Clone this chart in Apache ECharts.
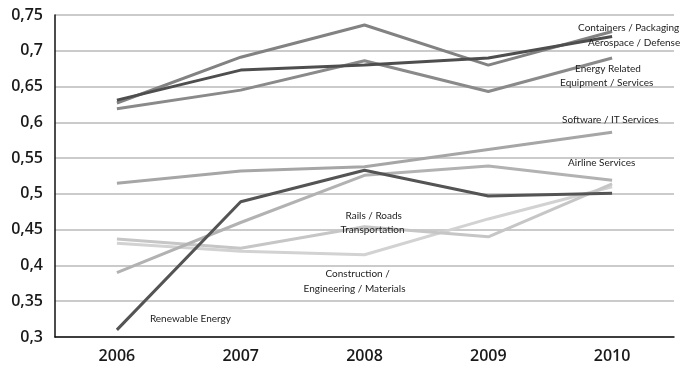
<!DOCTYPE html>
<html>
<head>
<meta charset="utf-8">
<script src="https://cdn.jsdelivr.net/npm/echarts@6/dist/echarts.min.js"></script>
<style>
  html, body { margin: 0; padding: 0; background: #fff; }
  #chart { width: 686px; height: 369px; }
</style>
</head>
<body>
<div id="chart"></div>
<script>
// Years on the x axis
const years = ['2006', '2007', '2008', '2009', '2010'];

// Y axis ticks
const yMin = 0.3;
const yMax = 0.75;
const yStep = 0.05;

// Sector values per year
const containersPackaging = [0.631, 0.673, 0.680, 0.690, 0.720];
const aerospaceDefense    = [0.627, 0.691, 0.736, 0.680, 0.727];
const energyEquipment     = [0.619, 0.645, 0.686, 0.643, 0.690];
const softwareIT          = [0.515, 0.532, 0.538, 0.562, 0.586];
const airlineServices     = [0.390, 0.460, 0.526, 0.539, 0.519];
const renewableEnergy     = [0.310, 0.489, 0.533, 0.497, 0.501];
const railsRoads          = [0.437, 0.424, 0.454, 0.440, 0.514];
const construction        = [0.431, 0.420, 0.415, 0.465, 0.510];

// Sector names written next to the lines: [text, year, value, pixel shift]
const sectorLabels = [
  ['Containers / Packaging', '2010', 0.732, -34],
  ['Aerospace / Defense', '2010', 0.711, -24],
  ['Energy Related', '2010', 0.675, -37],
  ['Equipment / Services', '2010', 0.655, -52],
  ['Software / IT Services', '2010', 0.603, -50],
  ['Airline Services', '2010', 0.543, -44],
  ['Rails / Roads', '2008', 0.469, -19],
  ['Transportation', '2008', 0.450, -24],
  ['Construction /', '2008', 0.388, -39],
  ['Engineering / Materials', '2008', 0.368, -61],
  ['Renewable Energy', '2006', 0.325, 33]
];

const seriesDefs = [
  { name: 'Construction / Engineering / Materials', data: construction, color: '#d2d2d2' },
  { name: 'Rails / Roads Transportation', data: railsRoads, color: '#c6c6c6' },
  { name: 'Airline Services', data: airlineServices, color: '#b2b2b2' },
  { name: 'Software / IT Services', data: softwareIT, color: '#a6a6a6' },
  { name: 'Energy Related Equipment / Services', data: energyEquipment, color: '#8a8a8a' },
  { name: 'Aerospace / Defense', data: aerospaceDefense, color: '#828282' },
  { name: 'Renewable Energy', data: renewableEnergy, color: '#545454' },
  { name: 'Containers / Packaging', data: containersPackaging, color: '#4e4e4e' }
];

const chart = echarts.init(document.getElementById('chart'), null, { renderer: 'canvas' });

const fmt = v => String(+v.toFixed(2)).replace('.', ',');

chart.setOption({
  animation: false,
  backgroundColor: '#fff',
  grid: { left: 55, right: 12, top: 15, bottom: 32, containLabel: false },
  xAxis: {
    type: 'category',
    data: years,
    boundaryGap: true,
    axisLine: { show: true, lineStyle: { color: '#111', width: 1.5 } },
    axisTick: { show: false },
    axisLabel: { color: '#1a1a1a', fontFamily: 'Open Sans', fontWeight: 600, fontSize: 16, margin: 11 },
    splitLine: { show: false }
  },
  yAxis: {
    type: 'value',
    min: yMin,
    max: yMax,
    interval: yStep,
    axisLine: { show: true, lineStyle: { color: '#111', width: 1.5 } },
    axisTick: { show: false },
    axisLabel: { color: '#1a1a1a', fontFamily: 'Open Sans', fontWeight: 600, fontSize: 16, margin: 12, formatter: fmt },
    splitLine: { show: true, lineStyle: { color: '#cbcbcb', width: 2 } }
  },
  series: seriesDefs.map(s => ({
    name: s.name,
    type: 'line',
    data: s.data,
    symbol: 'none',
    lineStyle: { color: s.color, width: 3 },
    itemStyle: { color: s.color }
  }))
});

// Place the sector names in data coordinates
chart.setOption({
  graphic: sectorLabels.map(([text, year, value, dx]) => {
    const p = chart.convertToPixel({ gridIndex: 0 }, [year, value]);
    return {
      type: 'text',
      x: p[0] + dx,
      y: p[1],
      z: 100,
      style: {
        text: text,
        fill: '#222',
        font: '10px Lato',
        textAlign: 'left',
        textVerticalAlign: 'middle'
      }
    };
  })
});
</script>
</body>
</html>
